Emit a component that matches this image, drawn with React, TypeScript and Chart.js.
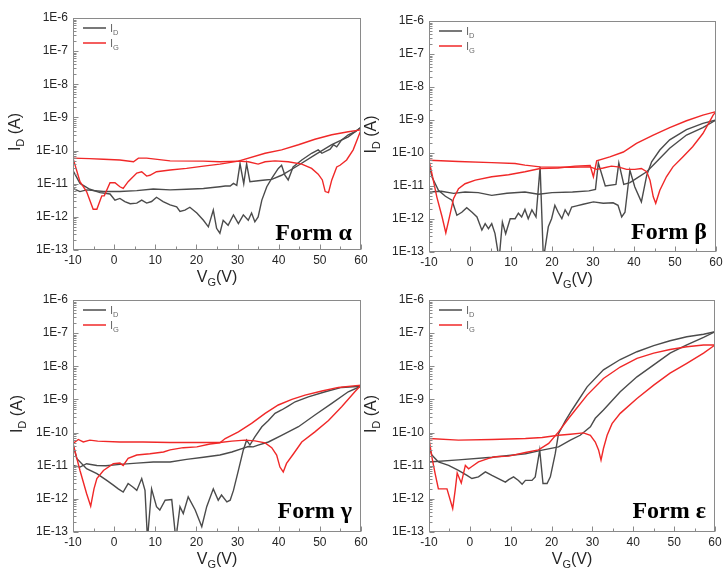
import React, { useEffect, useRef } from "react";
import { Chart, registerables } from "chart.js";

Chart.register(...registerables);

const W = 723;
const H = 571;

// ---- axis ticks / labels ----
const xTickValues = [-10, 0, 10, 20, 30, 40, 50, 60];
const xTickLabels = ["-10", "0", "10", "20", "30", "40", "50", "60"];
const yTickValues = [1e-13, 1e-12, 1e-11, 1e-10, 1e-9, 1e-8, 1e-7, 1e-6];
const yTickLabels = ["1E-13", "1E-12", "1E-11", "1E-10", "1E-9", "1E-8", "1E-7", "1E-6"];
const formLabels = ["Form α", "Form β", "Form γ", "Form ε"];
const seriesNames = ["I_D", "I_G"];

// ---- Form α ----
const alphaIgFwdV = [-10, -8.3, -6.7, -5.1, -4.2, -3.0, -2.4, -1.0, 0.2, 1.4, 2.2, 3.4, 5.5, 6.7, 7.9, 8.7, 10.3, 13.6, 17.6, 21.7, 25.7, 30.2, 36.7, 40.7, 44.8, 48.8, 52.9, 56.9, 60];
const alphaIgFwdI = [5.9e-11, 1.15e-11, 5.8e-12, 1.7e-12, 1.7e-12, 4.3e-12, 4.3e-12, 1.07e-11, 1.07e-11, 8.1e-12, 7.2e-12, 1.15e-11, 2.1e-11, 2.3e-11, 1.7e-11, 1.8e-11, 2.3e-11, 2.6e-11, 2.9e-11, 3.4e-11, 3.9e-11, 4.8e-11, 8.3e-11, 1.05e-10, 1.5e-10, 2.2e-10, 3.0e-10, 3.7e-10, 4.2e-10];
const alphaIgRevV = [60, 58.1, 56.5, 54.9, 54.1, 52.9, 52.1, 51.3, 50.6, 49.6, 48.0, 45.6, 42.3, 39.1, 36.7, 35, 32.6, 30.2, 25.7, 21.7, 13.6, 7.9, 5.9, 4.7, 1.4, -2.6, -6, -10];
const alphaIgRevI = [4.2e-10, 1.05e-10, 5.2e-11, 3.6e-11, 3.2e-11, 1.3e-11, 5.4e-12, 5.8e-12, 1.3e-11, 1.95e-11, 2.9e-11, 3.9e-11, 4.6e-11, 4.9e-11, 4.6e-11, 3.9e-11, 4.6e-11, 4.8e-11, 4.6e-11, 4.8e-11, 4.9e-11, 5.9e-11, 5.9e-11, 4.6e-11, 5.2e-11, 5.5e-11, 5.7e-11, 5.9e-11];
const alphaIdFwdV = [-10, -8.3, -5.9, -3.4, -1.0, 0.2, 1.4, 2.6, 3.9, 5.5, 6.7, 7.9, 9.1, 10.3, 11.9, 13.6, 15.2, 16.0, 17.2, 18.4, 20.1, 21.7, 22.9, 24.1, 24.9, 25.7, 26.5, 27.7, 29.0, 30.2, 31.4, 32.6, 33.4, 34.2, 35.0, 35.9, 37.1, 38.3, 39.9, 40.7, 41.5, 42.3, 43.5, 45.6, 48.0, 49.6, 50.5, 52.5, 53.3, 54.1, 55.3, 56.9, 58.6, 60];
const alphaIdFwdI = [2.5e-11, 1.02e-11, 6.8e-12, 5.4e-12, 4.9e-12, 3.2e-12, 3.6e-12, 2.9e-12, 2.5e-12, 2.6e-12, 3.2e-12, 2.6e-12, 2.9e-12, 3.9e-12, 2.9e-12, 2.3e-12, 2.0e-12, 1.45e-12, 1.6e-12, 1.95e-12, 1.3e-12, 7.9e-13, 5.0e-13, 1.6e-12, 4.5e-13, 3.2e-13, 7.9e-13, 5.6e-13, 1.15e-12, 6.3e-13, 1.15e-12, 7.9e-13, 1.3e-12, 7.1e-13, 1.0e-12, 3.2e-12, 8.1e-12, 1.45e-11, 2.9e-11, 3.6e-11, 1.8e-11, 1.3e-11, 3.2e-11, 5.2e-11, 8.3e-11, 1.05e-10, 8.3e-11, 1.1e-10, 1.5e-10, 1.3e-10, 2.1e-10, 3.0e-10, 3.7e-10, 5.0e-10];
const alphaIdRevV = [60, 56.9, 52.9, 48.8, 44.8, 40.7, 38.3, 36.7, 35, 33, 32.2, 31.5, 30.6, 29.8, 29, 28.2, 27, 25.7, 24.5, 21.7, 17.6, 13.6, 9.5, 5.5, 1.4, -2.6, -6.7, -8.3, -10];
const alphaIdRevI = [5.0e-10, 2.6e-10, 1.5e-10, 7.4e-11, 3.6e-11, 1.8e-11, 1.35e-11, 1.3e-11, 1.23e-11, 1.15e-11, 4.0e-11, 1.0e-11, 4.0e-11, 8.9e-12, 1.02e-11, 8.5e-12, 8.5e-12, 8.1e-12, 7.8e-12, 7.2e-12, 6.8e-12, 6.5e-12, 6.9e-12, 6.2e-12, 5.8e-12, 5.8e-12, 6.5e-12, 5.8e-12, 7.2e-12];

// ---- Form β ----
const betaIgFwdV = [-10, -9.3, -8.1, -6.8, -5.9, -5.2, -4.0, -2.8, -1.2, 1.3, 5.3, 9.4, 13.4, 17.1, 21.5, 25.6, 29.3, 30.1, 30.9, 34.1, 37.4, 40.6, 44.7, 48.7, 52.8, 56.8, 60];
const betaIgFwdI = [6.0e-11, 2.4e-11, 4.7e-12, 1.15e-12, 3.8e-13, 9.1e-13, 4.2e-12, 8.3e-12, 1.17e-11, 1.5e-11, 1.9e-11, 2.2e-11, 2.7e-11, 3.4e-11, 3.5e-11, 4.0e-11, 4.2e-11, 1.9e-11, 5.8e-11, 7.6e-11, 1.07e-10, 1.95e-10, 3.5e-10, 5.9e-10, 9.5e-10, 1.4e-9, 1.8e-9];
const betaIgRevV = [60, 59.3, 56.8, 54.3, 51.9, 49.5, 47.9, 46.3, 45.3, 44.7, 43.9, 43.1, 41.8, 40.2, 38.2, 36.1, 34.5, 32.5, 30.9, 29.3, 24.4, 17.1, 13.4, 11, 5.3, -2.8, -10];
const betaIgRevI = [1.8e-9, 1.4e-9, 3.9e-10, 1.55e-10, 7.6e-11, 3.8e-11, 1.9e-11, 7.4e-12, 3.0e-12, 4.7e-12, 1.5e-11, 2.7e-11, 3.4e-11, 3.2e-11, 3.2e-11, 3.8e-11, 4.0e-11, 3.5e-11, 3.2e-11, 3.8e-11, 3.7e-11, 3.8e-11, 4.3e-11, 4.8e-11, 5.1e-11, 5.5e-11, 6.0e-11];
const betaIdFwdV = [-10, -9.3, -7.7, -6, -4.4, -3.2, -2.0, -0.8, 0.5, 1.7, 2.9, 3.7, 4.5, 5.3, 6.1, 7.1, 7.9, 8.7, 9.8, 11, 11.8, 12.6, 13.4, 14.2, 15.1, 16.1, 17.1, 17.9, 19.1, 19.9, 20.7, 21.5, 22.4, 23.2, 24.0, 24.8, 26, 27.6, 30.1, 32.5, 34.9, 36.1, 37, 37.8, 39, 40.2, 41.8, 43.1, 44.3, 46.3, 48.7, 52.8, 56.8, 60];
const betaIdFwdI = [4.9e-11, 1.9e-11, 7.4e-12, 4.9e-12, 3.7e-12, 1.3e-12, 1.6e-12, 2.2e-12, 1.6e-12, 1.15e-12, 4.6e-13, 7.2e-13, 5.1e-13, 7.2e-13, 3.6e-13, 6e-14, 8.1e-13, 3.6e-13, 1.02e-12, 1.02e-12, 1.5e-12, 1.15e-12, 1.95e-12, 1.02e-12, 1.9e-12, 1.15e-12, 3.8e-11, 6e-14, 5.8e-13, 1.02e-12, 2.6e-12, 1.6e-12, 1.02e-12, 1.9e-12, 1.3e-12, 2.3e-12, 2.5e-12, 2.8e-12, 3.3e-12, 3.0e-12, 3.1e-12, 2.6e-12, 1.15e-12, 1.6e-12, 3.0e-11, 9.3e-12, 3.3e-12, 2.1e-11, 5.4e-11, 1.23e-10, 2.5e-10, 5.1e-10, 7.9e-10, 1.0e-9];
const betaIdRevV = [60, 56.8, 52.8, 48.7, 45.5, 43.1, 40.6, 39, 37.5, 36.3, 35.6, 33, 31.3, 30.6, 29, 25, 20, 16.7, 13.4, 9, 5.3, 2, -1.2, -4, -7, -10];
const betaIdRevI = [1.0e-9, 5.9e-10, 3.5e-10, 1.4e-10, 5.4e-11, 2.7e-11, 1.7e-11, 1.26e-11, 1.12e-11, 5.0e-11, 1.12e-11, 1.0e-11, 5.0e-11, 7.9e-12, 7.1e-12, 6.6e-12, 6.3e-12, 5.6e-12, 6.6e-12, 6.0e-12, 5.2e-12, 6.3e-12, 6.6e-12, 6.0e-12, 6.9e-12, 6.6e-12];

// ---- Form γ ----
const gammaIgFwdV = [-10, -8.3, -6.7, -5.7, -4.9, -4.2, -2.6, -0.2, 1.4, 2.2, 3.4, 5.5, 8.7, 12, 13.6, 16.8, 20.1, 23.3, 25.7, 27, 30.2, 33.4, 36.7, 39.9, 43.2, 46.4, 50.5, 54.5, 60];
const gammaIgFwdI = [4.7e-11, 7.2e-12, 1.45e-12, 6.0e-13, 2.0e-12, 4.1e-12, 7.2e-12, 1.15e-11, 1.2e-11, 1.02e-11, 1.66e-11, 2.1e-11, 2.3e-11, 2.6e-11, 3.0e-11, 3.5e-11, 3.7e-11, 4.5e-11, 4.9e-11, 6.6e-11, 1.05e-10, 1.9e-10, 3.8e-10, 6.8e-10, 1.0e-9, 1.35e-9, 1.8e-9, 2.3e-9, 2.7e-9];
const gammaIgRevV = [60, 58.5, 55.3, 52.1, 48.8, 45.6, 43.6, 41.9, 41.1, 40.3, 39.5, 38.3, 36.7, 34.2, 31.8, 28.6, 25.7, 20, 13.6, 7, 1.4, -4, -5.9, -7.5, -8.7, -10];
const gammaIgRevI = [2.7e-9, 1.7e-9, 6.0e-10, 2.3e-10, 1.05e-10, 5.2e-11, 2.3e-11, 1.17e-11, 6.5e-12, 9.1e-12, 2.1e-11, 3.5e-11, 4.9e-11, 5.6e-11, 5.9e-11, 5.5e-11, 5.0e-11, 5.0e-11, 5.0e-11, 5.2e-11, 5.2e-11, 5.5e-11, 5.9e-11, 5.2e-11, 6.2e-11, 4.7e-11];
const gammaIdFwdV = [-10, -9.1, -6.7, -4.2, -1.8, -0.2, 1.0, 2.2, 3.4, 4.7, 5.5, 6.7, 7.5, 8.1, 9.1, 10.3, 11.1, 12.4, 14, 15, 16, 16.8, 18, 19.7, 21.3, 22.5, 24.1, 25.3, 26.1, 27.4, 28.2, 29, 30.2, 31.4, 32.2, 33, 34.2, 35.9, 37.5, 39.1, 40.7, 42.3, 44, 47.2, 51.3, 55.3, 60];
const gammaIdFwdI = [4.5e-11, 1.66e-11, 8.1e-12, 5.8e-12, 3.6e-12, 2.6e-12, 2.0e-12, 1.6e-12, 2.9e-12, 2.2e-12, 1.8e-12, 4.1e-12, 1.8e-12, 6e-14, 2.0e-12, 5.8e-13, 4.6e-13, 9.1e-13, 9.5e-13, 6e-14, 5.8e-13, 3.6e-13, 1.15e-12, 4.6e-13, 1.45e-13, 5.8e-13, 2.0e-12, 9.1e-13, 1.3e-12, 8.1e-13, 9.1e-13, 1.8e-12, 7.2e-12, 3.0e-11, 5.9e-11, 4.2e-11, 7.4e-11, 1.5e-10, 2.3e-10, 3.8e-10, 4.8e-10, 6.3e-10, 8.5e-10, 1.2e-9, 1.7e-9, 2.3e-9, 2.5e-9];
const gammaIdRevV = [60, 56.9, 52.9, 48.8, 44.8, 40.7, 37.5, 35, 33.8, 32.6, 31.8, 28.6, 25.7, 21.7, 17.6, 13.6, 9.5, 5.5, 1.4, -2, -4.2, -6.7, -8.3, -10];
const gammaIdRevI = [2.5e-9, 1.7e-9, 7.6e-10, 3.4e-10, 1.5e-10, 8.3e-11, 5.2e-11, 4.2e-11, 3.7e-11, 3.8e-11, 3.5e-11, 2.6e-11, 2.1e-11, 1.8e-11, 1.55e-11, 1.3e-11, 1.3e-11, 1.2e-11, 1.1e-11, 1.0e-11, 1.02e-11, 1.15e-11, 9.1e-12, 1.02e-11];

// ---- Form ε ----
const epsIgFwdV = [-10, -9.3, -8.5, -7.7, -6.4, -5.6, -4.2, -3.6, -3.1, -2.1, -1.1, -0.3, 0.5, 2.1, 4.6, 6.2, 9.5, 13.6, 16.8, 19.3, 21.7, 24.2, 25.8, 28.7, 32.7, 36.8, 40.9, 45, 49, 53.1, 57.2, 60];
const epsIgFwdI = [6.6e-11, 1.86e-11, 5.8e-12, 2.0e-12, 2.0e-12, 2.0e-12, 5.1e-13, 1.8e-12, 6.0e-12, 3.0e-12, 1.02e-11, 8.1e-12, 9.5e-12, 1.3e-11, 1.66e-11, 1.86e-11, 1.95e-11, 2.5e-11, 3.0e-11, 4.7e-11, 1.05e-10, 2.7e-10, 4.8e-10, 1.35e-9, 4.3e-9, 9.5e-9, 1.74e-8, 2.5e-8, 3.2e-8, 3.9e-8, 4.4e-8, 4.4e-8];
const epsIgRevV = [60, 57.2, 53.1, 49, 45, 40.9, 36.8, 34.8, 33.6, 32.7, 32.1, 31.5, 30.7, 29.5, 27.8, 24.6, 21.7, 17.7, 13.6, 5.4, -2.8, -10];
const epsIgRevI = [4.4e-8, 2.5e-8, 1.23e-8, 6.2e-9, 2.7e-9, 1.07e-9, 3.8e-10, 1.86e-10, 8.3e-11, 3.3e-11, 1.48e-11, 3.0e-11, 5.2e-11, 8.3e-11, 9.8e-11, 8.9e-11, 8.3e-11, 7.1e-11, 6.6e-11, 6.2e-11, 5.9e-11, 6.6e-11];
const epsIdFwdV = [-10, -9.3, -7.7, -5.2, -2.8, -0.7, 0.5, 2.1, 3.8, 5.4, 8.7, 9.5, 10.7, 11.9, 12.8, 13.6, 15.2, 16, 17.1, 17.9, 18.9, 19.7, 20.9, 21.7, 23.4, 25, 28.7, 32.7, 36.8, 40.9, 45, 49, 53.1, 57.2, 60];
const epsIdFwdI = [3.7e-11, 2.1e-11, 1.3e-11, 1.02e-11, 7.2e-12, 5.1e-12, 4.1e-12, 4.6e-12, 6.5e-12, 5.1e-12, 3.2e-12, 3.8e-12, 4.6e-12, 3.6e-12, 2.75e-12, 3.6e-12, 3.6e-12, 4.6e-12, 2.95e-11, 2.9e-12, 2.9e-12, 4.6e-12, 2.3e-11, 9.3e-11, 2.3e-10, 4.8e-10, 2.4e-9, 7.8e-9, 1.6e-8, 2.75e-8, 4.2e-8, 5.9e-8, 7.8e-8, 9.3e-8, 1.1e-7];
const epsIdRevV = [60, 57.2, 53.1, 49, 45, 40.9, 36.8, 32.7, 30.7, 29.5, 27, 24.6, 21.7, 17.7, 13.6, 5.4, -2.8, -10];
const epsIdRevI = [1.1e-7, 7.4e-8, 4.4e-8, 2.5e-8, 1.1e-8, 4.8e-9, 1.7e-9, 4.8e-10, 2.7e-10, 1.5e-10, 8.3e-11, 5.9e-11, 3.7e-11, 2.95e-11, 2.3e-11, 1.8e-11, 1.5e-11, 1.3e-11];

// ---- styling ----
const SANS = '"Liberation Sans", Arial, Helvetica, sans-serif';
const SERIF = '"Liberation Serif", "Times New Roman", serif';
const GRAY = "#4b4b4b";
const RED = "#f02828";
const AXIS = "#8a8a8a";
const TEXT = "#262626";

type Series = [number[], number[]];
type PanelCfg = {
  form: string;
  l: number; r: number; t: number; b: number;
  yTitleX: number;
  formDy: number;
  idF: Series; idR: Series; igF: Series; igR: Series;
};

const panels: PanelCfg[] = [
  { form: formLabels[0], l: 73, r: 361, t: 18, b: 250, yTitleX: 14, formDy: 10,
    idF: [alphaIdFwdV, alphaIdFwdI], idR: [alphaIdRevV, alphaIdRevI], igF: [alphaIgFwdV, alphaIgFwdI], igR: [alphaIgRevV, alphaIgRevI] },
  { form: formLabels[1], l: 429, r: 716, t: 21, b: 252, yTitleX: 370, formDy: 13,
    idF: [betaIdFwdV, betaIdFwdI], idR: [betaIdRevV, betaIdRevI], igF: [betaIgFwdV, betaIgFwdI], igR: [betaIgRevV, betaIgRevI] },
  { form: formLabels[2], l: 73, r: 361, t: 300, b: 532, yTitleX: 16, formDy: 14,
    idF: [gammaIdFwdV, gammaIdFwdI], idR: [gammaIdRevV, gammaIdRevI], igF: [gammaIgFwdV, gammaIgFwdI], igR: [gammaIgRevV, gammaIgRevI] },
  { form: formLabels[3], l: 429, r: 715, t: 300, b: 532, yTitleX: 370, formDy: 14,
    idF: [epsIdFwdV, epsIdFwdI], idR: [epsIdRevV, epsIdRevI], igF: [epsIgFwdV, epsIgFwdI], igR: [epsIgRevV, epsIgRevI] },
];

type Part = [string, boolean];

function partsWidth(ctx: CanvasRenderingContext2D, parts: Part[], size: number, subSize: number) {
  let w = 0;
  for (const [t, sub] of parts) {
    ctx.font = `${sub ? subSize : size}px ${SANS}`;
    w += ctx.measureText(t).width;
  }
  return w;
}

function drawParts(ctx: CanvasRenderingContext2D, parts: Part[], x: number, y: number, size: number, subSize: number, drop: number) {
  let cx = x;
  for (const [t, sub] of parts) {
    ctx.font = `${sub ? subSize : size}px ${SANS}`;
    ctx.fillText(t, cx, sub ? y + drop : y);
    cx += ctx.measureText(t).width;
  }
}

function makeDecor(p: PanelCfg) {
  return {
    id: "decor",
    afterDraw(chart: any) {
      const ctx: CanvasRenderingContext2D = chart.ctx;
      const a = chart.chartArea;
      const xs = chart.scales.x;
      const ys = chart.scales.y;
      ctx.save();

      // frame
      ctx.strokeStyle = AXIS;
      ctx.lineWidth = 1;
      const L = Math.round(a.left) + 0.5;
      const T = Math.round(a.top) + 0.5;
      const R = Math.round(a.right) - 0.5;
      const B = Math.round(a.bottom) - 0.5;
      ctx.strokeRect(L, T, R - L, B - T);

      // inward ticks
      ctx.beginPath();
      for (let v = -10; v <= 60; v += 5) {
        const px = Math.round(xs.getPixelForValue(v)) + 0.5;
        const len = v % 10 === 0 ? 5 : 3;
        ctx.moveTo(px, B);
        ctx.lineTo(px, B - len);
      }
      for (let e = -13; e <= -6; e++) {
        for (let k = 1; k <= 9; k++) {
          if (e === -6 && k > 1) break;
          const py = Math.round(ys.getPixelForValue(k * Math.pow(10, e))) + 0.5;
          const len = k === 1 ? 5 : 3;
          ctx.moveTo(L, py);
          ctx.lineTo(L + len, py);
        }
      }
      ctx.stroke();

      // legend
      const lx = a.left + 10;
      const legY = [a.top + 10, a.top + 25];
      const legCol = [GRAY, RED];
      const legSub = ["D", "G"];
      for (let i = 0; i < 2; i++) {
        ctx.strokeStyle = legCol[i];
        ctx.lineWidth = 1.5;
        ctx.beginPath();
        ctx.moveTo(lx, legY[i]);
        ctx.lineTo(lx + 23, legY[i]);
        ctx.stroke();
        ctx.fillStyle = "#6a6a6a";
        ctx.textAlign = "left";
        ctx.textBaseline = "alphabetic";
        drawParts(ctx, [["I", false], [legSub[i], true]], lx + 27, legY[i] + 4, 11, 7.5, 3);
      }

      // axis titles
      ctx.fillStyle = TEXT;
      ctx.textAlign = "left";
      ctx.textBaseline = "alphabetic";
      const xParts: Part[] = [["V", false], ["G", true], ["(V)", false]];
      const xw = partsWidth(ctx, xParts, 16, 11);
      drawParts(ctx, xParts, (a.left + a.right) / 2 - xw / 2, a.bottom + 32, 16, 11, 4);

      const yParts: Part[] = [["I", false], ["D", true], [" (A)", false]];
      const yw = partsWidth(ctx, yParts, 16, 11);
      ctx.save();
      ctx.translate(p.yTitleX, (a.top + a.bottom) / 2 - 2);
      ctx.rotate(-Math.PI / 2);
      drawParts(ctx, yParts, -yw / 2, 5.5, 16, 11, 4);
      ctx.restore();

      // form label
      ctx.fillStyle = "#000";
      ctx.font = `bold 24px ${SERIF}`;
      ctx.textAlign = "right";
      ctx.fillText(p.form, a.right - 9, a.bottom - p.formDy);

      ctx.restore();
    },
  };
}

function toPoints(s: Series) {
  return s[0].map((v, i) => ({ x: v, y: s[1][i] }));
}

function lineDs(label: string, s: Series, color: string) {
  return {
    label,
    data: toPoints(s),
    borderColor: color,
    backgroundColor: color,
    borderWidth: 1.4,
    pointRadius: 0,
    fill: false,
    tension: 0,
  };
}

function buildConfig(p: PanelCfg): any {
  const yAxisW = 60;
  const xAxisH = 25;
  const tickFont = { family: SANS, size: 12 };
  return {
    type: "line",
    data: {
      datasets: [
        lineDs(seriesNames[1], p.igF, RED),
        lineDs(seriesNames[1], p.igR, RED),
        lineDs(seriesNames[0], p.idF, GRAY),
        lineDs(seriesNames[0], p.idR, GRAY),
      ],
    },
    options: {
      responsive: false,
      maintainAspectRatio: false,
      animation: false,
      events: [],
      layout: {
        padding: { left: p.l - yAxisW, right: W - p.r, top: p.t, bottom: H - p.b - xAxisH },
      },
      plugins: { legend: { display: false }, tooltip: { enabled: false } },
      scales: {
        x: {
          type: "linear",
          min: -10,
          max: 60,
          grid: { display: false, drawTicks: true, tickLength: 3 },
          border: { display: false },
          ticks: {
            padding: 0,
            font: tickFont,
            color: TEXT,
            maxRotation: 0,
            autoSkip: false,
            callback: (_v: any, i: number) => xTickLabels[i],
          },
          afterBuildTicks: (s: any) => {
            s.ticks = xTickValues.map((v) => ({ value: v }));
          },
          afterFit: (s: any) => {
            s.height = xAxisH;
          },
        },
        y: {
          type: "logarithmic",
          min: 1e-13,
          max: 1e-6,
          grid: { display: false, drawTicks: true, tickLength: 5 },
          border: { display: false },
          ticks: {
            padding: 0,
            font: tickFont,
            color: TEXT,
            autoSkip: false,
            callback: (_v: any, i: number) => yTickLabels[i],
          },
          afterBuildTicks: (s: any) => {
            s.ticks = yTickValues.map((v) => ({ value: v }));
          },
          afterFit: (s: any) => {
            s.width = yAxisW;
          },
        },
      },
    },
    plugins: [makeDecor(p)],
  };
}

function Panel({ cfg }: { cfg: PanelCfg }) {
  const ref = useRef<HTMLCanvasElement>(null);
  useEffect(() => {
    if (!ref.current) return;
    const chart = new Chart(ref.current, buildConfig(cfg));
    return () => chart.destroy();
  }, [cfg]);
  return (
    <canvas
      ref={ref}
      width={W}
      height={H}
      style={{ position: "absolute", left: 0, top: 0, width: W, height: H }}
    />
  );
}

export default function App() {
  return (
    <div
      style={{
        position: "absolute",
        left: 0,
        top: 0,
        width: W,
        height: H,
        overflow: "hidden",
        background: "#fff",
      }}
    >
      {panels.map((p) => (
        <Panel key={p.form} cfg={p} />
      ))}
    </div>
  );
}
